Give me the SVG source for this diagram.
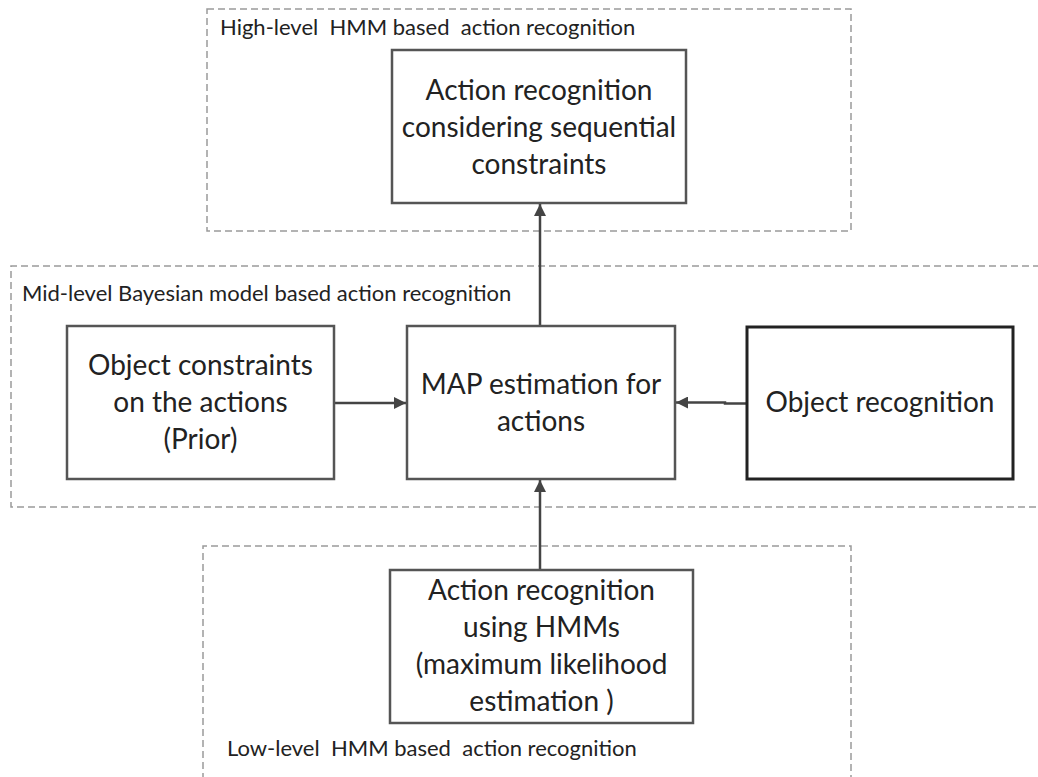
<svg xmlns="http://www.w3.org/2000/svg" width="1038" height="777" viewBox="0 0 1038 777">
<style>
.bg{fill:#ffffff}
.zone{fill:none;stroke:#9a9a9a;stroke-width:1.5;stroke-dasharray:7 4}
.node{fill:#ffffff;stroke:#555555;stroke-width:2.5}
.node-dark{fill:#ffffff;stroke:#222222;stroke-width:3}
.lbl{font-family:Lato,"Liberation Sans",sans-serif;font-size:22px;fill:#222222}
.txt{font-family:Lato,"Liberation Sans",sans-serif;font-size:28px;fill:#222222;text-anchor:middle}
.edge{fill:none;stroke:#444444;stroke-width:2.5}
</style>
<defs>
<marker id="arr" viewBox="0 0 12 12" refX="12" refY="6" markerWidth="12" markerHeight="12" markerUnits="userSpaceOnUse" orient="auto">
<path d="M0,0 L12,6 L0,12 z" fill="#444444"/>
</marker>
</defs>
<rect class="bg" x="0" y="0" width="1038" height="777"/>
<g id="zones">
<rect id="zone-high" class="zone" x="207" y="9" width="644" height="222"/>
<path id="zone-mid" class="zone" d="M1040,266 H11 V507 H1040"/>
<path id="zone-low" class="zone" d="M203,780 V546 H851 V780"/>
<text class="lbl" x="220" y="35" xml:space="preserve">High-level  HMM based  action recognition</text>
<text class="lbl" x="22" y="301">Mid-level Bayesian model based action recognition</text>
<text class="lbl" x="227" y="756" xml:space="preserve">Low-level  HMM based  action recognition</text>
</g>
<g id="connectors">
<line class="edge" x1="540" y1="326" x2="540" y2="204" marker-end="url(#arr)"/>
<line class="edge" x1="334" y1="403" x2="406" y2="403" marker-end="url(#arr)"/>
<path class="edge" d="M747,403.5 H725 V402.5 H676" marker-end="url(#arr)"/>
<line class="edge" x1="540" y1="570" x2="540" y2="480" marker-end="url(#arr)"/>
</g>
<g id="node-top">
<rect class="node" x="392" y="50" width="294" height="153"/>
<text class="txt" x="539" y="100">Action recognition</text>
<text class="txt" x="539" y="137">considering sequential</text>
<text class="txt" x="539" y="174">constraints</text>
</g>
<g id="node-prior">
<rect class="node" x="67" y="326" width="267" height="153"/>
<text class="txt" x="200.5" y="375">Object constraints</text>
<text class="txt" x="200.5" y="412">on the actions</text>
<text class="txt" x="200.5" y="449">(Prior)</text>
</g>
<g id="node-map">
<rect class="node" x="407" y="326" width="268" height="153"/>
<text class="txt" x="541" y="394">MAP estimation for</text>
<text class="txt" x="541" y="431">actions</text>
</g>
<g id="node-object">
<rect class="node-dark" x="747" y="327" width="266" height="152"/>
<text class="txt" x="880" y="412">Object recognition</text>
</g>
<g id="node-low">
<rect class="node" x="390" y="570" width="303" height="153"/>
<text class="txt" x="541.5" y="600">Action recognition</text>
<text class="txt" x="541.5" y="637">using HMMs</text>
<text class="txt" x="541.5" y="674">(maximum likelihood</text>
<text class="txt" x="541.5" y="711">estimation )</text>
</g>
</svg>
